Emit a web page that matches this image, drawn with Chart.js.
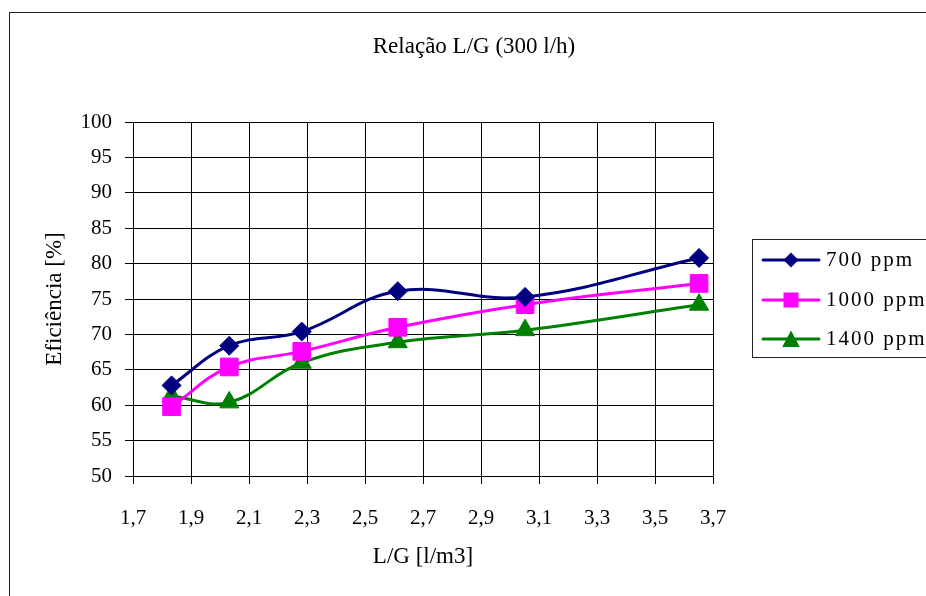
<!DOCTYPE html>
<html>
<head>
<meta charset="utf-8">
<title>Relação L/G (300 l/h)</title>
<script src="https://cdn.jsdelivr.net/npm/chart.js@4/dist/chart.umd.min.js"></script>
<style>
  html, body { margin: 0; padding: 0; background: #fff; }
  canvas { display: block; }
</style>
</head>
<body>
<canvas id="chart" width="926" height="596"></canvas>
<script>
// L/G ratio (l/m3) at which each efficiency was measured
const lgRatio = [1.833, 2.032, 2.282, 2.613, 3.052, 3.652];

// Removal efficiency [%] per inlet concentration
const eff700 = [62.8, 68.4, 70.4, 76.1, 75.3, 80.8];
const eff1000 = [59.8, 65.4, 67.6, 71.0, 74.2, 77.2];
const eff1400 = [61.3, 60.4, 66.0, 68.9, 70.6, 74.2];

const seriesNames = ['700 ppm', '1000 ppm', '1400 ppm'];
const xTickValues = [1.7, 1.9, 2.1, 2.3, 2.5, 2.7, 2.9, 3.1, 3.3, 3.5, 3.7];
const yTickValues = [50, 55, 60, 65, 70, 75, 80, 85, 90, 95, 100];

const chartTitle = 'Relação L/G (300 l/h)';
const xTitle = 'L/G [l/m3]';
const yTitle = 'Eficiência [%]';

const FONT = '"Liberation Serif", "Times New Roman", serif';

function toPoints(ys) {
  return ys.map((y, i) => ({ x: lgRatio[i], y }));
}

function shapePath(ctx, style, x, y, r) {
  ctx.beginPath();
  if (style === 'rectRot') {
    ctx.moveTo(x - r, y); ctx.lineTo(x, y - r); ctx.lineTo(x + r, y); ctx.lineTo(x, y + r);
  } else if (style === 'rect') {
    ctx.rect(x - r, y - r, 2 * r, 2 * r);
  } else {
    const h = r * 1.05;
    ctx.moveTo(x, y - h); ctx.lineTo(x + r * 1.1, y + h * 0.95); ctx.lineTo(x - r * 1.1, y + h * 0.95);
  }
  ctx.closePath();
}

// Outer frame and chart title
const framePlugin = {
  id: 'frame',
  beforeDraw(chart) {
    const ctx = chart.ctx;
    ctx.save();
    ctx.fillStyle = '#fff';
    ctx.fillRect(0, 0, chart.width, chart.height);
    ctx.strokeStyle = '#222';
    ctx.lineWidth = 1;
    ctx.strokeRect(9.5, 12.5, 1000, 1000);
    ctx.restore();
  },
  afterDraw(chart) {
    const ctx = chart.ctx;
    ctx.save();
    ctx.fillStyle = '#000';
    ctx.font = '23px ' + FONT;
    ctx.textAlign = 'center';
    ctx.textBaseline = 'middle';
    ctx.fillText(chartTitle, 474, 47);
    ctx.restore();
  }
};

// Boxed legend on the right with line + marker samples
const boxLegendPlugin = {
  id: 'boxLegend',
  afterDraw(chart) {
    const ctx = chart.ctx;
    ctx.save();
    ctx.strokeStyle = '#222';
    ctx.lineWidth = 1;
    ctx.strokeRect(752.5, 239.5, 300, 118);
    const rows = [260, 300, 339];
    const sizes = [7.5, 7.5, 8];
    chart.data.datasets.forEach((ds, i) => {
      const y = rows[i];
      ctx.strokeStyle = ds.borderColor;
      ctx.lineWidth = 3;
      ctx.lineCap = 'round';
      ctx.beginPath();
      ctx.moveTo(763, y);
      ctx.lineTo(819, y);
      ctx.stroke();
      ctx.fillStyle = ds.pointBackgroundColor;
      shapePath(ctx, ds.pointStyle, 791, y, sizes[i]);
      ctx.fill();
      ctx.fillStyle = '#000';
      ctx.font = '21px ' + FONT;
      ctx.textAlign = 'left';
      ctx.textBaseline = 'middle';
      ctx.letterSpacing = '2px';
      ctx.fillText(ds.label, 826, y);
    });
    ctx.restore();
  }
};

const datasets = [
  { label: seriesNames[0], data: toPoints(eff700), borderColor: '#000080', pointBackgroundColor: '#000080',
    pointBorderColor: '#000080', pointStyle: 'rectRot', pointRadius: 9.5 },
  { label: seriesNames[1], data: toPoints(eff1000), borderColor: '#FF00FF', pointBackgroundColor: '#FF00FF',
    pointBorderColor: '#FF00FF', pointStyle: 'rect', pointRadius: 12.5 },
  { label: seriesNames[2], data: toPoints(eff1400), borderColor: '#008000', pointBackgroundColor: '#008000',
    pointBorderColor: '#008000', pointStyle: 'triangle', pointRadius: 11 }
].map(d => Object.assign({ borderWidth: 3, pointBorderWidth: 1, tension: 0.4, fill: false }, d));

new Chart(document.getElementById('chart'), {
  type: 'line',
  data: { datasets },
  plugins: [framePlugin, boxLegendPlugin],
  options: {
    responsive: false,
    animation: false,
    devicePixelRatio: 1,
    layout: { padding: { top: 122, right: 213, left: 0, bottom: 0 } },
    plugins: { legend: { display: false }, title: { display: false }, tooltip: { enabled: false } },
    scales: {
      x: {
        type: 'linear',
        min: 1.7, max: 3.7,
        afterBuildTicks(scale) { scale.ticks = xTickValues.map(v => ({ value: v })); },
        afterFit(scale) { scale.height = 120; },
        grid: { color: '#000', lineWidth: 1, tickLength: 8, drawTicks: true },
        border: { color: '#000', width: 1 },
        ticks: {
          color: '#000', padding: 22, maxRotation: 0, autoSkip: false,
          font: { family: FONT, size: 21 },
          callback: v => v.toFixed(1).replace('.', ',')
        },
        title: { display: true, text: xTitle, color: '#000', font: { family: FONT, size: 23 },
          padding: { top: 0, bottom: 25 } }
      },
      y: {
        min: 50, max: 100,
        afterBuildTicks(scale) { scale.ticks = yTickValues.map(v => ({ value: v })); },
        afterFit(scale) { scale.width = 133; },
        grid: { color: '#000', lineWidth: 1, tickLength: 8, drawTicks: true },
        border: { color: '#000', width: 1 },
        ticks: { color: '#000', padding: 13, autoSkip: false, font: { family: FONT, size: 21 } },
        title: { display: true, text: yTitle, color: '#000', font: { family: FONT, size: 23 },
          padding: { top: 41, bottom: 0 } }
      }
    }
  }
});
</script>
</body>
</html>
